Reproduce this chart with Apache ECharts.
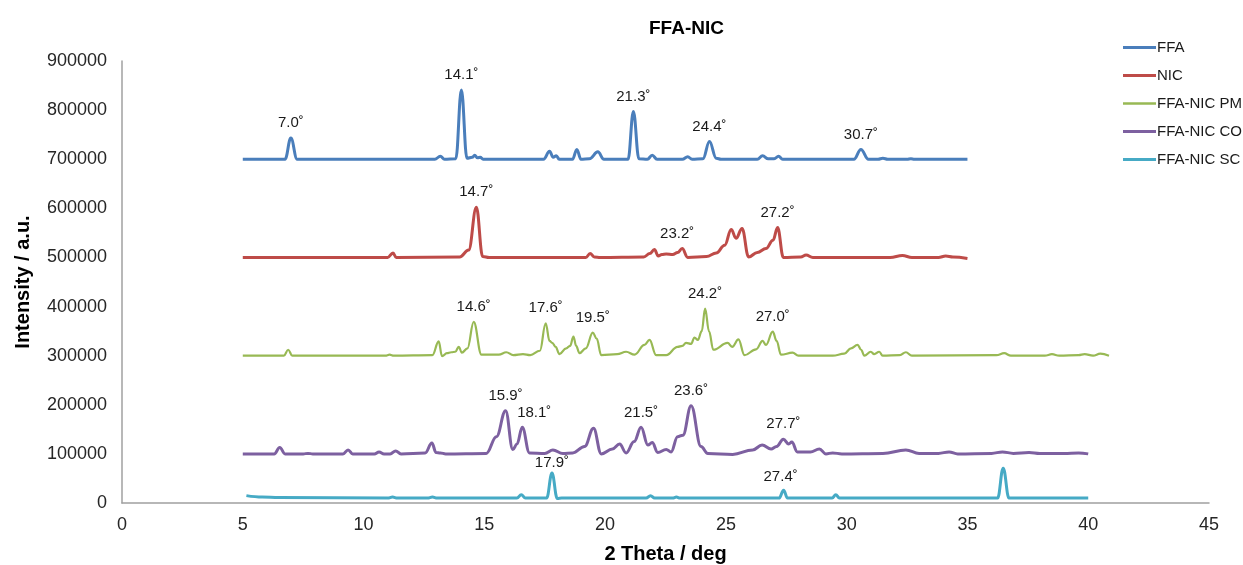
<!DOCTYPE html>
<html>
<head>
<meta charset="utf-8">
<script src="https://cdn.jsdelivr.net/npm/echarts@6/dist/echarts.min.js"></script>
<style>
html,body{margin:0;padding:0;background:#fff;}
#chart{width:1243px;height:565px;}
</style>
</head>
<body>
<div id="chart"></div>
<script>
// ---- data ----
var seriesNames = ['FFA', 'NIC', 'FFA-NIC PM', 'FFA-NIC CO', 'FFA-NIC SC'];

var ffa = [
[5,700000],[6.75,700000],[6.99,743000],[7.25,700000],
[12.95,700000],[13.18,706000],[13.35,700000],
[13.82,701000],[14.05,841000],[14.28,702000],
[14.5,704000],[14.6,708000],[14.72,703000],[14.83,704000],[14.95,700000],
[17.45,700000],[17.7,716000],[17.85,704000],[17.98,707000],[18.1,700000],
[18.65,700000],[18.83,720000],[19.0,700000],
[19.35,701000],[19.7,715000],[19.95,700000],
[20.95,700000],[21.17,797000],[21.4,701000],
[21.75,700000],[21.95,708000],[22.15,700000],
[23.2,700000],[23.42,705000],[23.6,700000],
[24.05,701000],[24.32,736000],[24.6,702000],[24.8,700000],
[26.3,700000],[26.52,707000],[26.75,701000],[27.0,701000],[27.18,706000],[27.35,700000],
[30.3,700000],[30.59,720000],[30.9,700000],
[31.3,700000],[31.5,702000],[31.7,700000],
[32.5,700000],[32.66,701000],[32.8,700000],
[35,700000]
];

var nic = [
[5,500000],[11.0,500000],[11.22,509000],[11.35,500000],
[13.98,501000],[14.35,515000],[14.67,602000],[14.93,502000],[15.2,500000],
[19.2,500000],[19.38,508000],[19.55,501000],[19.8,500000],
[21.6,501000],[21.85,508000],[22.04,516000],[22.2,503000],[22.35,506000],[22.53,507000],[22.8,506000],[23.0,510000],[23.19,518000],[23.42,500000],
[24.2,502000],[24.6,509000],[24.95,525000],[25.22,557000],[25.42,539000],[25.67,559000],[25.94,501000],
[26.3,510000],[26.66,518000],[26.95,535000],[27.14,561000],[27.38,500000],
[28.1,501000],[28.32,505000],[28.6,500000],
[31.8,500000],[32.31,504000],[32.7,500000],
[33.8,500000],[34.1,503000],[34.4,501000],[35,498000]
];

var pm = [
[5,300000],[6.7,300000],[6.88,312000],[7.05,300000],
[10.9,300000],[11.08,302000],[11.25,300000],
[12.85,301000],[13.11,329000],[13.25,299000],[13.45,305000],[13.63,307000],[13.8,308000],[13.94,318000],[14.07,306000],[14.3,315000],[14.56,369000],[14.88,302000],
[15.6,302000],[15.91,307000],[16.2,301000],[16.6,303000],[16.9,301000],
[17.3,310000],[17.54,366000],[17.7,330000],[17.81,326000],[17.95,318000],[18.11,303000],
[18.39,315000],[18.55,320000],[18.69,339000],[18.8,320000],[18.94,305000],
[19.2,315000],[19.49,347000],[19.65,335000],[19.84,301000],
[20.5,303000],[20.87,308000],[21.22,302000],[21.63,322000],[21.84,332000],[22.11,301000],[22.53,301000],
[23.0,318000],[23.2,320000],[23.35,326000],[23.56,324000],[23.7,337000],[23.84,332000],[24.0,350000],[24.14,396000],[24.3,350000],[24.48,312000],
[25.07,326000],[25.26,318000],[25.52,333000],[25.77,301000],
[26.25,313000],[26.52,330000],[26.66,322000],[26.94,349000],[27.1,330000],[27.28,302000],
[27.76,306000],[28.0,300000],[29.42,300000],
[29.9,304000],[30.18,315000],[30.45,322000],[30.6,312000],[30.73,300000],
[31.0,308000],[31.14,303000],[31.35,308000],[31.49,300000],
[32.2,301000],[32.45,307000],[32.7,300000],
[36.2,301000],[36.52,305000],[36.8,300000],
[38.2,300000],[38.5,303000],[38.8,300000],
[39.6,301000],[39.85,303000],[40.2,300000],[40.5,304000],[40.86,300000]
];

var co = [
[5,100000],[6.3,100000],[6.53,113000],[6.75,100000],
[7.5,100000],[7.7,101000],[7.9,100000],
[9.15,100000],[9.36,108000],[9.55,100000],
[10.45,100000],[10.64,104000],[10.85,100000],[11.1,100000],[11.33,106000],[11.55,100000],
[12.55,102000],[12.83,122000],[13.0,103000],[13.18,102000],[13.4,100000],
[15.08,101000],[15.5,135000],[15.88,188000],[16.18,109000],[16.35,120000],[16.57,154000],[16.87,102000],
[17.5,101000],[17.84,108000],[18.25,101000],[18.66,102000],
[19.15,115000],[19.52,152000],[19.84,100000],
[20.3,110000],[20.6,120000],[20.87,102000],
[21.2,125000],[21.49,154000],[21.77,118000],[21.95,123000],[22.18,103000],[22.53,109000],[22.73,104000],
[23.0,135000],[23.22,138000],[23.56,198000],[23.97,115000],[24.25,101000],
[25.28,99000],[26.11,108000],[26.5,118000],[26.87,110000],[27.1,115000],[27.38,130000],[27.6,120000],[27.73,124000],[27.96,104000],
[28.5,104000],[28.87,110000],[29.14,100000],[29.42,102000],[29.8,100000],
[31.5,101000],[32.45,108000],[33.0,101000],[33.8,101000],[34.24,104000],[34.6,100000],
[36.0,101000],[36.45,104000],[36.9,101000],[37.55,103000],[38.0,101000],[39.0,101000],[39.6,102000],[40,100000]
];

var sc = [
[5.15,15000],[5.8,12000],[6.5,11000],[11.0,10000],[11.2,12000],[11.4,10000],[12.65,10000],[12.85,12000],[13.05,10000],
[16.35,10000],[16.53,17000],[16.7,10000],
[17.58,10000],[17.8,61000],[18.02,9000],[18.2,10000],
[21.7,10000],[21.88,15000],[22.05,10000],
[22.8,10000],[22.95,12000],[23.1,10000],
[27.2,10000],[27.39,26000],[27.55,10000],
[29.4,10000],[29.55,17000],[29.7,10000],
[36.25,10000],[36.48,71000],[36.72,10000],[40,10000]
];

// peak annotations: [x of peak point, label text]
var ffaPeaks = [[6.99,'7.0˚'],[14.05,'14.1˚'],[21.17,'21.3˚'],[24.32,'24.4˚'],[30.59,'30.7˚']];
var nicPeaks = [[14.67,'14.7˚'],[23.19,'23.2˚'],[27.14,'27.2˚']];
var pmPeaks  = [[14.56,'14.6˚'],[17.54,'17.6˚'],[19.49,'19.5˚'],[24.14,'24.2˚'],[26.94,'27.0˚']];
var coPeaks  = [[15.88,'15.9˚'],[16.57,'18.1˚'],[21.49,'21.5˚'],[23.56,'23.6˚'],[27.38,'27.7˚']];
var scPeaks  = [[17.8,'17.9˚'],[27.39,'27.4˚']];

// ---- styling ----
var colors = ['#4a7ebb', '#be4b48', '#98b954', '#7d60a0', '#46aac5'];
var widths = [3, 3, 2.2, 3, 3];
var allData = [ffa, nic, pm, co, sc];
var allPeaks = [ffaPeaks, nicPeaks, pmPeaks, coPeaks, scPeaks];
var labelOffsets = {'18.1˚': [12, 0], '23.2˚': [-5, 0], '17.9˚': [0, 5], '27.4˚': [-3, 2]};
var FONT = '"Liberation Sans", Arial, sans-serif';

function peakMarks(data, peaks) {
  return peaks.map(function (p) {
    var pt = data.find(function (d) { return d[0] === p[0]; });
    var item = { name: p[1], coord: [pt[0], pt[1]] };
    if (labelOffsets[p[1]]) item.label = { offset: labelOffsets[p[1]] };
    return item;
  });
}

var series = seriesNames.map(function (name, i) {
  return {
    name: name,
    type: 'line',
    data: allData[i],
    symbol: 'none',
    smooth: 0.4,
    smoothMonotone: 'x',
    color: colors[i],
    lineStyle: { width: widths[i], color: colors[i] },
    z: 10 - i,
    animation: false,
    markPoint: {
      symbol: 'circle',
      symbolSize: 1,
      itemStyle: { color: 'rgba(0,0,0,0)' },
      label: {
        show: true, position: 'top', distance: 7,
        formatter: '{b}', color: '#1a1a1a', fontSize: 15, fontFamily: FONT
      },
      data: peakMarks(allData[i], allPeaks[i])
    }
  };
});

var legendData = seriesNames.map(function (name, i) {
  return { name: name, icon: 'path://M0,0H32V' + widths[i] + 'H0Z' };
});

var chart = echarts.init(document.getElementById('chart'), null, { renderer: 'canvas' });
chart.setOption({
  backgroundColor: '#ffffff',
  animation: false,
  title: {
    text: 'FFA-NIC', left: 644, top: 14,
    textStyle: { fontFamily: FONT, fontSize: 19, fontWeight: 'bold', color: '#000' }
  },
  legend: {
    orient: 'vertical', left: 1118, top: 35,
    itemWidth: 33, itemHeight: 14, itemGap: 13,
    textStyle: { fontFamily: FONT, fontSize: 15, color: '#1a1a1a', padding: [0, 0, 0, -4] },
    data: legendData
  },
  grid: { left: 122, right: 34, top: 61, bottom: 62, containLabel: false, outerBoundsMode: 'none' },
  xAxis: {
    type: 'value', min: 0, max: 45, interval: 5,
    name: '2 Theta / deg', nameLocation: 'middle', nameGap: 41,
    nameTextStyle: { fontFamily: FONT, fontSize: 20, fontWeight: 'bold', color: '#000' },
    axisLine: { show: true, lineStyle: { color: '#a0a0a0', width: 1.5 } },
    axisTick: { show: false },
    splitLine: { show: false },
    axisLabel: { margin: 13, fontFamily: FONT, fontSize: 18, color: '#262626' }
  },
  yAxis: {
    type: 'value', min: 0, max: 900000, interval: 100000,
    name: 'Intensity / a.u.', nameLocation: 'middle', nameGap: 89, nameRotate: 90,
    nameTextStyle: { fontFamily: FONT, fontSize: 20, fontWeight: 'bold', color: '#000' },
    axisLine: { show: true, lineStyle: { color: '#a0a0a0', width: 1.5 } },
    axisTick: { show: false },
    splitLine: { show: false },
    axisLabel: { margin: 15, fontFamily: FONT, fontSize: 18, color: '#262626',
      formatter: function (v) { return String(v); } }
  },
  series: series
});
</script>
</body>
</html>
